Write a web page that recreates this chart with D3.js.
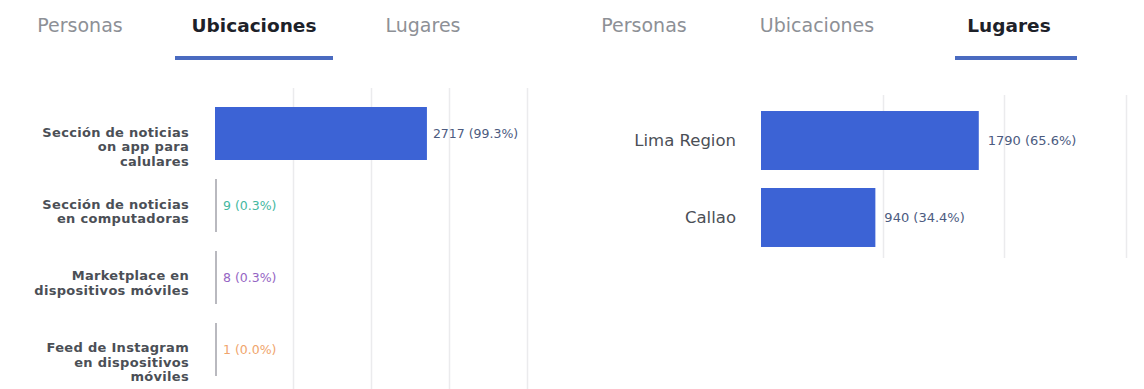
<!DOCTYPE html>
<html>
<head>
<meta charset="utf-8">
<script src="https://cdn.jsdelivr.net/npm/d3@7"></script>
<style>
  html, body { margin: 0; padding: 0; background: #ffffff; }
  svg { display: block; }
</style>
</head>
<body>
<svg id="chart" width="1144" height="389"></svg>
<script>
// Tab headers shared by both panels
const tabLabels = ["Personas", "Ubicaciones", "Lugares"];

// Left panel: placements (ubicaciones)
const placementCategories = [
  ["Sección de noticias", "on app para", "calulares"],
  ["Sección de noticias", "en computadoras"],
  ["Marketplace en", "dispositivos móviles"],
  ["Feed de Instagram", "en dispositivos", "móviles"]
];
const placementValues = [2717, 9, 8, 1];
const placementTicks = [0, 1000, 2000, 3000, 4000];

// Right panel: places (lugares)
const placeCategories = [["Lima Region"], ["Callao"]];
const placeValues = [1790, 940];
const placeTicks = [0, 1000, 2000, 3000];

// Label colours per row
const placementLabelColors = ["#4c5b7f", "#45b89f", "#9565c4", "#f0a56c"];
const placeLabelColors = ["#4c5b7f", "#4c5b7f"];

const svg = d3.select("#chart");
const FONT = "'DejaVu Sans', 'Liberation Sans', sans-serif";
const BAR = "#3c63d5";
const THIN = "#b9b9bf";

function drawTabs(centers, active, underline) {
  const g = svg.append("g");
  g.selectAll("text").data(tabLabels).join("text")
    .attr("x", (d, i) => centers[i])
    .attr("y", 32)
    .attr("text-anchor", "middle")
    .attr("font-family", FONT)
    .attr("font-size", (d, i) => i === active ? 18.5 : 19)
    .attr("font-weight", (d, i) => i === active ? "bold" : "normal")
    .attr("fill", (d, i) => i === active ? "#1d2129" : "#8d9096")
    .text(d => d);
  g.append("rect")
    .attr("x", underline[0]).attr("y", 56)
    .attr("width", underline[1] - underline[0]).attr("height", 4)
    .attr("fill", "#4a6bc0");
}

function drawPanel(opts) {
  const { categories, values, ticks, xRange, yRange, padding,
          labelX, labelSize, labelWeight, labelSpacing, labelColors, gap, gridY, valueSize } = opts;
  const total = d3.sum(values);
  const x = d3.scaleLinear().domain([ticks[0], ticks[ticks.length - 1]]).range(xRange);
  const y = d3.scaleBand().domain(d3.range(values.length)).range(yRange).padding(padding);
  const g = svg.append("g");

  // vertical gridlines
  g.append("g").selectAll("line").data(ticks.slice(1)).join("line")
    .attr("x1", d => Math.round(x(d)) + 0.5).attr("x2", d => Math.round(x(d)) + 0.5)
    .attr("y1", gridY[0]).attr("y2", gridY[1])
    .attr("stroke", "#ebebed").attr("stroke-width", 1.5);

  // bars; very small values get a thin grey stub
  g.append("g").selectAll("rect").data(values).join("rect")
    .attr("x", x(0))
    .attr("y", (d, i) => y(i))
    .attr("width", d => Math.max(x(d) - x(0), 2))
    .attr("height", y.bandwidth())
    .attr("fill", d => (x(d) - x(0)) < 3 ? THIN : BAR);

  // value labels
  g.append("g").selectAll("text").data(values).join("text")
    .attr("x", d => Math.max(x(d), x(0) + 2) + gap)
    .attr("y", (d, i) => y(i) + y.bandwidth() / 2)
    .attr("dominant-baseline", "central")
    .attr("font-family", FONT)
    .attr("font-size", valueSize)
    .attr("fill", (d, i) => labelColors[i])
    .text(d => `${d} (${(d / total * 100).toFixed(1)}%)`);

  // category labels, right aligned, possibly on several lines
  const cat = g.append("g").selectAll("text").data(categories).join("text")
    .attr("text-anchor", "end")
    .attr("font-family", FONT)
    .attr("font-size", labelSize)
    .attr("font-weight", labelWeight)
    .attr("letter-spacing", labelSpacing)
    .attr("fill", "#4b4f56");
  cat.each(function (lines, i) {
    const c = y(i) + y.bandwidth() / 2;
    const first = lines.length > 1 ? c - 1.5 : c;
    d3.select(this).selectAll("tspan").data(lines).join("tspan")
      .attr("x", labelX)
      .attr("y", (d, k) => first + k * 14.5)
      .attr("dominant-baseline", "central")
      .text(d => d);
  });
}

drawTabs([80, 254, 423], 1, [175, 333]);
drawTabs([644, 817, 1009], 2, [955, 1077]);

drawPanel({
  categories: placementCategories, values: placementValues, ticks: placementTicks,
  xRange: [215, 527], yRange: [88, 395], padding: 0.264,
  labelX: 189, labelSize: 13, labelWeight: "bold", labelSpacing: 0.3,
  labelColors: placementLabelColors, gap: 6, gridY: [88, 389], valueSize: 12.5
});

drawPanel({
  categories: placeCategories, values: placeValues, ticks: placeTicks,
  xRange: [761, 1126], yRange: [93, 265], padding: 0.234,
  labelX: 736, labelSize: 16.5, labelWeight: "normal", labelSpacing: 0,
  labelColors: placeLabelColors, gap: 9, gridY: [95, 258], valueSize: 13
});
</script>
</body>
</html>
